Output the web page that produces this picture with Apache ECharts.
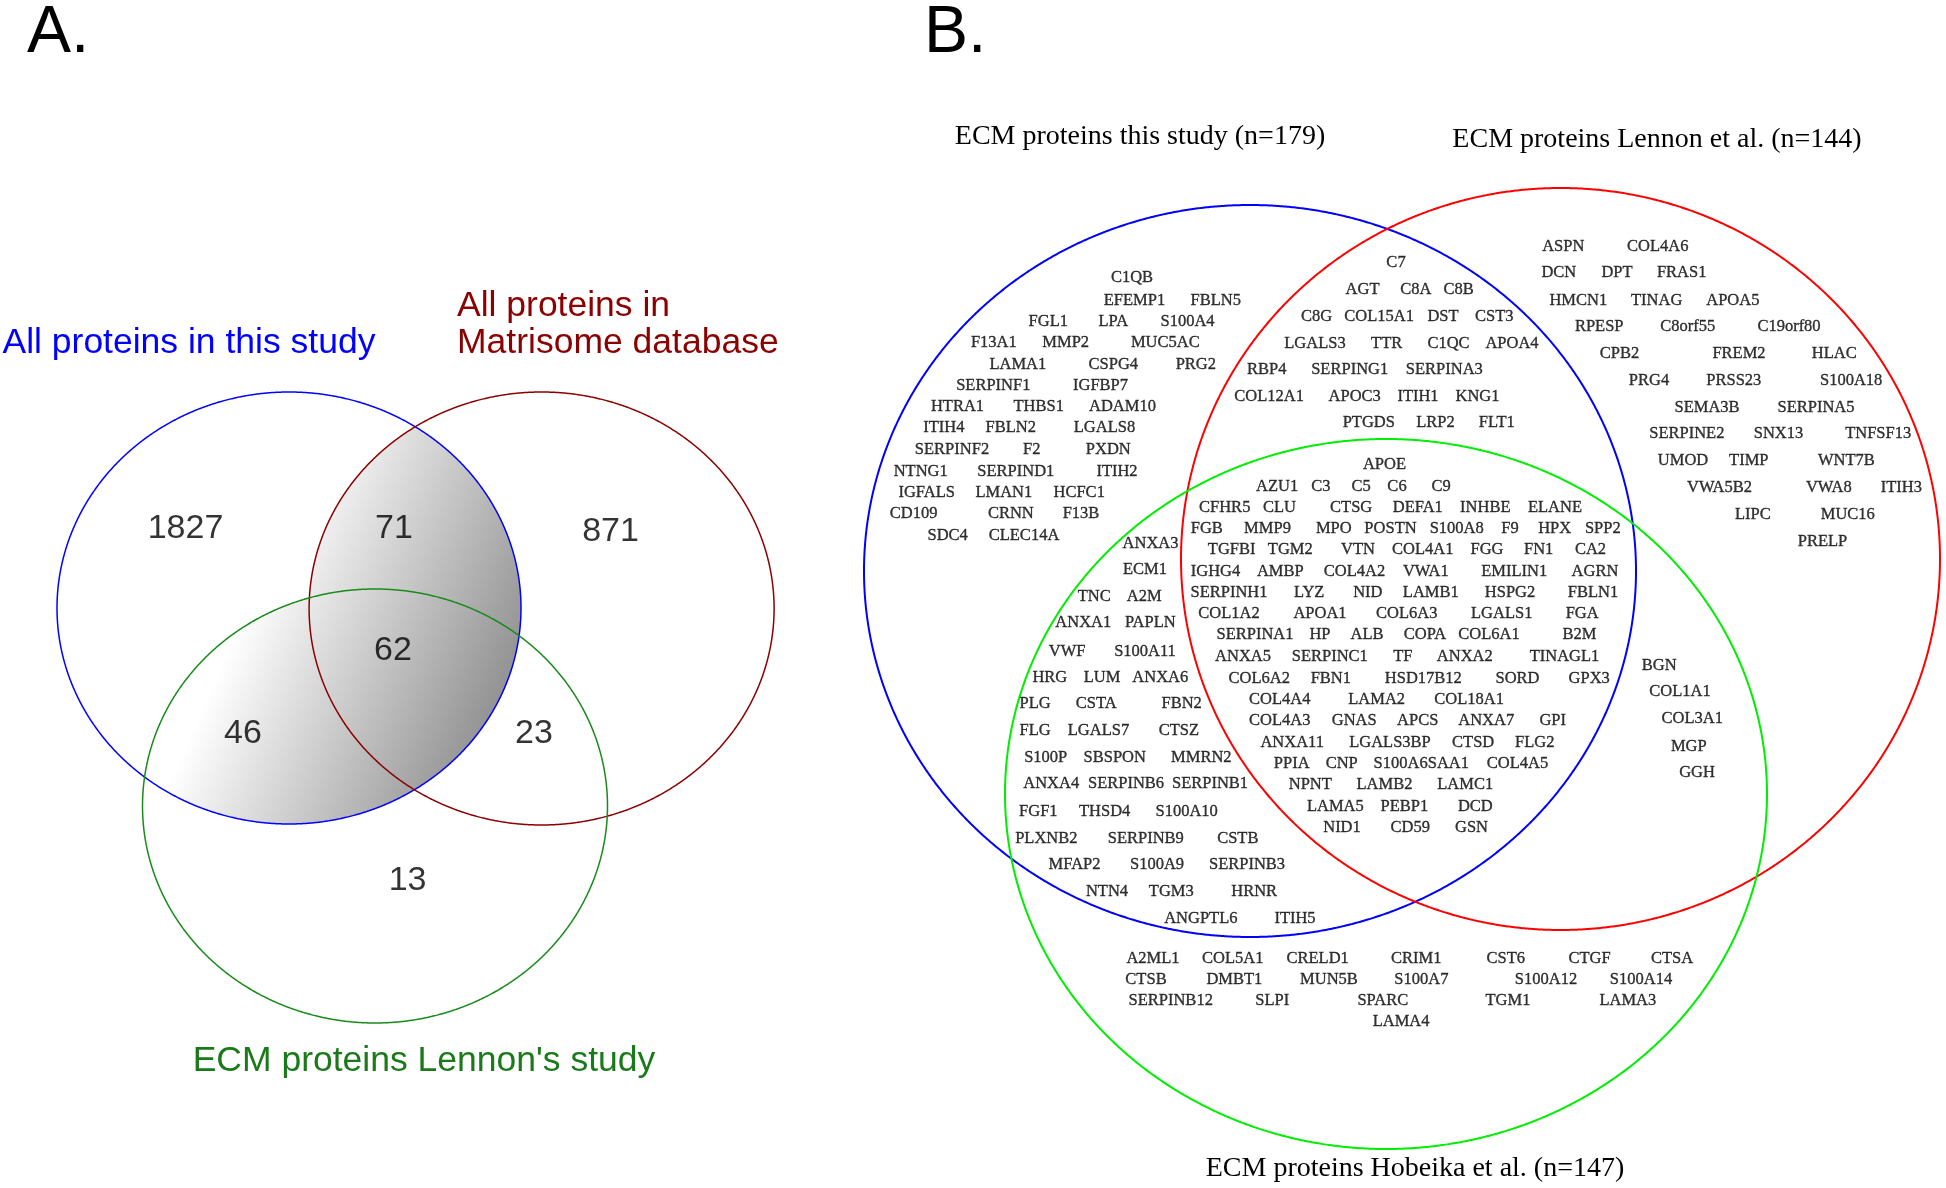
<!DOCTYPE html>
<html><head><meta charset="utf-8">
<script src="https://cdn.jsdelivr.net/npm/echarts@6/dist/echarts.min.js"></script>
<style>html,body{margin:0;padding:0;background:#fff}#c{width:1946px;height:1188px}</style>
</head><body><div id="c"></div>
<script>
// ================= DATA =================
// Panel A
const setNamesA = ['All proteins in this study', 'All proteins in\nMatrisome database', "ECM proteins Lennon's study"];
const regionNamesA = ['study only', 'study & matrisome', 'matrisome only', 'all three', 'study & Lennon', 'matrisome & Lennon', 'Lennon only'];
const regionCountsA = [1827, 71, 871, 62, 46, 23, 13];

// Panel B
const setTitlesB = ['ECM proteins this study (n=179)', 'ECM proteins Lennon et al. (n=144)', 'ECM proteins Hobeika et al. (n=147)'];
const genesThisOnly = [
  ['C1QB'], ['EFEMP1', 'FBLN5'], ['FGL1', 'LPA', 'S100A4'], ['F13A1', 'MMP2', 'MUC5AC'],
  ['LAMA1', 'CSPG4', 'PRG2'], ['SERPINF1', 'IGFBP7'], ['HTRA1', 'THBS1', 'ADAM10'],
  ['ITIH4', 'FBLN2', 'LGALS8'], ['SERPINF2', 'F2', 'PXDN'], ['NTNG1', 'SERPIND1', 'ITIH2'],
  ['IGFALS', 'LMAN1', 'HCFC1'], ['CD109', 'CRNN', 'F13B'], ['SDC4', 'CLEC14A']
];
const genesThisLennon = [
  ['C7'], ['AGT', 'C8A', 'C8B'], ['C8G', 'COL15A1', 'DST', 'CST3'], ['LGALS3', 'TTR', 'C1QC', 'APOA4'],
  ['RBP4', 'SERPING1', 'SERPINA3'], ['COL12A1', 'APOC3', 'ITIH1', 'KNG1'], ['PTGDS', 'LRP2', 'FLT1']
];
const genesAllThree = [
  ['APOE'], ['AZU1', 'C3', 'C5', 'C6', 'C9'], ['CFHR5', 'CLU', 'CTSG', 'DEFA1', 'INHBE', 'ELANE'],
  ['FGB', 'MMP9', 'MPO', 'POSTN', 'S100A8', 'F9', 'HPX', 'SPP2'],
  ['TGFBI', 'TGM2', 'VTN', 'COL4A1', 'FGG', 'FN1', 'CA2'],
  ['IGHG4', 'AMBP', 'COL4A2', 'VWA1', 'EMILIN1', 'AGRN'],
  ['SERPINH1', 'LYZ', 'NID', 'LAMB1', 'HSPG2', 'FBLN1'],
  ['COL1A2', 'APOA1', 'COL6A3', 'LGALS1', 'FGA'],
  ['SERPINA1', 'HP', 'ALB', 'COPA', 'COL6A1', 'B2M'],
  ['ANXA5', 'SERPINC1', 'TF', 'ANXA2', 'TINAGL1'],
  ['COL6A2', 'FBN1', 'HSD17B12', 'SORD', 'GPX3'],
  ['COL4A4', 'LAMA2', 'COL18A1'],
  ['COL4A3', 'GNAS', 'APCS', 'ANXA7', 'GPI'],
  ['ANXA11', 'LGALS3BP', 'CTSD', 'FLG2'],
  ['PPIA', 'CNP', 'S100A6SAA1', 'COL4A5'],
  ['NPNT', 'LAMB2', 'LAMC1'], ['LAMA5', 'PEBP1', 'DCD'], ['NID1', 'CD59', 'GSN']
];
const genesThisHobeika = [
  ['ANXA3'], ['ECM1'], ['TNC', 'A2M'], ['ANXA1', 'PAPLN'], ['VWF', 'S100A11'],
  ['HRG', 'LUM', 'ANXA6'], ['PLG', 'CSTA', 'FBN2'], ['FLG', 'LGALS7', 'CTSZ'],
  ['S100P', 'SBSPON', 'MMRN2'], ['ANXA4', 'SERPINB6', 'SERPINB1'], ['FGF1', 'THSD4', 'S100A10'],
  ['PLXNB2', 'SERPINB9', 'CSTB'], ['MFAP2', 'S100A9', 'SERPINB3'], ['NTN4', 'TGM3', 'HRNR'],
  ['ANGPTL6', 'ITIH5']
];
const genesLennonOnly = [
  ['ASPN', 'COL4A6'], ['DCN', 'DPT', 'FRAS1'], ['HMCN1', 'TINAG', 'APOA5'],
  ['RPESP', 'C8orf55', 'C19orf80'], ['CPB2', 'FREM2', 'HLAC'], ['PRG4', 'PRSS23', 'S100A18'],
  ['SEMA3B', 'SERPINA5'], ['SERPINE2', 'SNX13', 'TNFSF13'], ['UMOD', 'TIMP', 'WNT7B'],
  ['VWA5B2', 'VWA8', 'ITIH3'], ['LIPC', 'MUC16'], ['PRELP']
];
const genesLennonHobeika = [['BGN'], ['COL1A1'], ['COL3A1'], ['MGP'], ['GGH']];
const genesHobeikaOnly = [
  ['A2ML1', 'COL5A1', 'CRELD1', 'CRIM1', 'CST6', 'CTGF', 'CTSA'],
  ['CTSB', 'DMBT1', 'MUN5B', 'S100A7', 'S100A12', 'S100A14'],
  ['SERPINB12', 'SLPI', 'SPARC', 'TGM1', 'LAMA3'],
  ['LAMA4']
];

// ================= LAYOUT (pixel positions / styles) =================
const W = 1946, H = 1188;
const ellA = [
  { cx: 289, cy: 608, rx: 232, ry: 216, color: '#0000ff', lw: 1.5 },
  { cx: 541.6, cy: 608.5, rx: 232.5, ry: 216.5, color: '#8b0000', lw: 1.5 },
  { cx: 375, cy: 806, rx: 232.5, ry: 217, color: '#1a8a1a', lw: 1.5 }
];
const ellB = [
  { cx: 1250, cy: 571, rx: 386, ry: 366, color: '#0000ff', lw: 2 },
  { cx: 1560.5, cy: 559, rx: 379.5, ry: 371, color: '#ff0000', lw: 2 },
  { cx: 1386, cy: 794, rx: 381, ry: 355, color: '#00ee00', lw: 2 }
];
const countPosA = [[185.5, 529], [394, 529], [610.5, 532], [393, 651], [243, 734], [534, 733.5], [407.6, 881]];
const setLabelPosA = [
  { x: 2.5, y: 343, align: 'left', color: '#0000ff' },
  { x: 457, y: 325, align: 'left', color: '#8b0000' },
  { x: 424, y: 1061, align: 'center', color: '#1a7a1a' }
];
const setTitlePosB = [[1140, 136.5], [1657, 140], [1415, 1169]];

const layThisOnly = {
  y: [278, 301, 322, 343, 365, 386, 407, 428, 450, 472, 493, 514, 536],
  x: [[1132], [1134.5, 1215.7], [1048.3, 1113.3, 1187.5], [993.8, 1065.7, 1165.3],
      [1017.8, 1113.3, 1195.8], [993.3, 1100.5], [957.5, 1038.7, 1122.5],
      [943.8, 1010.8, 1104.5], [952, 1031.7, 1108.3], [920.7, 1015.8, 1117],
      [926.7, 1003.8, 1079.2], [913.7, 1010.8, 1081], [947.7, 1024]]
};
const layThisLennon = {
  y: [263, 290, 317, 344, 370, 397, 423],
  x: [[1396], [1362.5, 1415.8, 1458.7], [1316.7, 1379.2, 1443, 1494.2], [1315, 1386.7, 1448.5, 1512],
      [1266.7, 1349.7, 1444.3], [1269.2, 1354.7, 1418, 1477.5], [1368.8, 1435.5, 1496.8]]
};
const layAllThree = {
  y: [465, 487, 508, 529, 550, 572, 593, 614, 635, 657, 679, 700, 721, 743, 764, 785, 807, 828],
  x: [[1384.5], [1277.2, 1320.8, 1361.2, 1397, 1441.2], [1224.7, 1279.5, 1351.2, 1417.8, 1485.3, 1555],
      [1206.8, 1267.5, 1333.8, 1390.5, 1456.7, 1510, 1554.7, 1602.8],
      [1231.7, 1290.3, 1358, 1422.7, 1487, 1538.7, 1590.5],
      [1215.5, 1280.3, 1354.5, 1425.8, 1514.2, 1595],
      [1229, 1309.2, 1367.8, 1430.8, 1510, 1593],
      [1229, 1320, 1406.8, 1501.7, 1582.2],
      [1255, 1320, 1367, 1425, 1489, 1579.5],
      [1243, 1329.8, 1402.8, 1464.8, 1564.5],
      [1259.2, 1330.8, 1423.3, 1517.5, 1589.2],
      [1279.7, 1376.7, 1469.2],
      [1279.7, 1354.2, 1417.7, 1486.2, 1552.7],
      [1292.2, 1390, 1473.2, 1534.7],
      [1291.7, 1341.7, 1421.3, 1517.5],
      [1310.3, 1384.5, 1465.2], [1335.3, 1404.3, 1475.3], [1342, 1410.2, 1471.5]]
};
const layThisHobeika = {
  y: [544, 570, 597, 623, 652, 678, 704, 731, 758, 784, 812, 839, 865, 892, 919],
  x: [[1150.5], [1145], [1094.2, 1144.2], [1083.3, 1150.3], [1067.2, 1145],
      [1049.8, 1102, 1160.3], [1035.2, 1096.2, 1181.7], [1035.2, 1098.5, 1178.8],
      [1045.7, 1114.7, 1201.3], [1051.2, 1126, 1210], [1038.3, 1104.7, 1186.7],
      [1046.3, 1145.8, 1237.8], [1074.5, 1157, 1247], [1107, 1171.3, 1254.2],
      [1200.8, 1295]]
};
const layLennonOnly = {
  y: [247, 273, 301, 327, 354, 381, 408, 434, 461, 488, 515, 542],
  x: [[1563.3, 1657.8], [1558.8, 1617, 1681.7], [1578.3, 1656.7, 1732.8],
      [1599.2, 1687.8, 1789], [1619.5, 1739, 1834.2], [1649, 1733.8, 1851.2],
      [1707, 1816], [1686.8, 1778.5, 1878.2], [1683, 1748.8, 1846.3],
      [1719.5, 1828.8, 1901.3], [1752.8, 1847.8], [1822.5]]
};
const layLennonHobeika = {
  y: [666, 692, 719, 747, 773],
  x: [[1659.2], [1680], [1692.3], [1688.8], [1697]]
};
const layHobeikaOnly = {
  y: [959, 980, 1001, 1022],
  x: [[1153, 1232.8, 1317.7, 1416.3, 1505.7, 1589.6, 1672],
      [1146, 1234.4, 1329, 1421.4, 1546, 1641],
      [1170.7, 1272.2, 1382.8, 1508, 1627.8],
      [1401.1]]
};

// ================= BUILD =================
const SERIF = "'Liberation Serif','Times New Roman',serif";
const SANS = "'Liberation Sans',Arial,Helvetica,sans-serif";

function placeGenes(rows, lay) {
  const out = [];
  rows.forEach((row, i) => row.forEach((g, j) => out.push({ name: g, value: [lay.x[i][j], lay.y[i]] })));
  return out;
}
const geneData = [].concat(
  placeGenes(genesThisOnly, layThisOnly),
  placeGenes(genesThisLennon, layThisLennon),
  placeGenes(genesAllThree, layAllThree),
  placeGenes(genesThisHobeika, layThisHobeika),
  placeGenes(genesLennonOnly, layLennonOnly),
  placeGenes(genesLennonHobeika, layLennonHobeika),
  placeGenes(genesHobeikaOnly, layHobeikaOnly)
);
const countData = regionCountsA.map((v, i) => ({ name: regionNamesA[i], value: [countPosA[i][0], countPosA[i][1], v] }));

function ellPts(e, n) {
  const p = [];
  for (let k = 0; k < n; k++) {
    const t = 2 * Math.PI * k / n;
    p.push([e.cx + e.rx * Math.cos(t), e.cy + e.ry * Math.sin(t)]);
  }
  return p;
}
function inside(e, x, y) {
  const dx = (x - e.cx) / e.rx, dy = (y - e.cy) / e.ry;
  return dx * dx + dy * dy <= 1.0000001;
}
function intersect(a, b) {
  const pts = ellPts(a, 1440).filter(p => inside(b, p[0], p[1]))
    .concat(ellPts(b, 1440).filter(p => inside(a, p[0], p[1])));
  let mx = 0, my = 0;
  pts.forEach(p => { mx += p[0]; my += p[1]; });
  mx /= pts.length; my /= pts.length;
  pts.sort((p, q) => Math.atan2(p[1] - my, p[0] - mx) - Math.atan2(q[1] - my, q[0] - mx));
  return pts;
}

const chart = echarts.init(document.getElementById('c'), null, { renderer: 'canvas', width: W, height: H });

const allEll = ellA.concat(ellB);
const shadeFill = {
  type: 'linear', x: 186, y: 745, x2: 442, y2: 858, global: true,
  colorStops: [{ offset: 0, color: '#ffffff' }, { offset: 1, color: '#8e8e8e' }]
};

chart.setOption({
  animation: false,
  backgroundColor: '#ffffff',
  grid: { left: 0, right: 0, top: 0, bottom: 0 },
  xAxis: { type: 'value', min: 0, max: W, show: false },
  yAxis: { type: 'value', min: 0, max: H, inverse: true, show: false },
  graphic: [
    { type: 'text', x: 27, y: 34, style: { text: 'A.', font: '66px ' + SANS, fill: '#000', textVerticalAlign: 'middle' } },
    { type: 'text', x: 924, y: 34, style: { text: 'B.', font: '66px ' + SANS, fill: '#000', textVerticalAlign: 'middle' } }
  ].concat(setNamesA.map((t, i) => ({
    type: 'text', x: setLabelPosA[i].x, y: setLabelPosA[i].y,
    style: { text: t, font: '35.5px ' + SANS, fill: setLabelPosA[i].color, textAlign: setLabelPosA[i].align, textVerticalAlign: 'middle', lineHeight: 37 }
  }))).concat(setTitlesB.map((t, i) => ({
    type: 'text', x: setTitlePosB[i][0], y: setTitlePosB[i][1],
    style: { text: t, font: '28px ' + SERIF, fill: '#000', textAlign: 'center', textVerticalAlign: 'middle' }
  }))),
  series: [
    {
      // gradient-shaded overlap in panel A: this study ∩ (matrisome ∪ Lennon)
      type: 'custom', coordinateSystem: 'cartesian2d', silent: true, clip: false,
      data: [[ellA[0].cx, ellA[0].cy]],
      renderItem: (params, api) => {
        const toPx = pts => pts.map(p => api.coord(p));
        return {
          type: 'group', children: [
            { type: 'polygon', shape: { points: toPx(intersect(ellA[0], ellA[1])) }, style: { fill: shadeFill, stroke: null } },
            { type: 'polygon', shape: { points: toPx(intersect(ellA[0], ellA[2])) }, style: { fill: shadeFill, stroke: null } }
          ]
        };
      }
    },
    {
      type: 'custom', coordinateSystem: 'cartesian2d', silent: true, clip: false,
      data: allEll.map(e => [e.cx, e.cy]),
      renderItem: (params, api) => {
        const e = allEll[params.dataIndex];
        return {
          type: 'polygon',
          shape: { points: ellPts(e, 1440).map(p => api.coord(p)) },
          style: { fill: 'none', stroke: e.color, lineWidth: e.lw }
        };
      }
    },
    {
      type: 'scatter', silent: true, symbolSize: 1, itemStyle: { color: 'rgba(0,0,0,0)' },
      data: countData,
      label: {
        show: true, position: 'inside', formatter: p => String(p.value[2]),
        fontFamily: SANS, fontSize: 34, color: '#000'
      },
      labelLayout: { hideOverlap: false }
    },
    {
      type: 'scatter', silent: true, symbolSize: 1, itemStyle: { color: 'rgba(0,0,0,0)' },
      data: geneData,
      label: {
        show: true, position: 'inside', formatter: '{b}',
        fontFamily: SERIF, fontSize: 16.5, color: '#000',
        textBorderColor: '#000', textBorderWidth: 0.35
      },
      labelLayout: { hideOverlap: false }
    }
  ]
});
</script>
</body></html>
